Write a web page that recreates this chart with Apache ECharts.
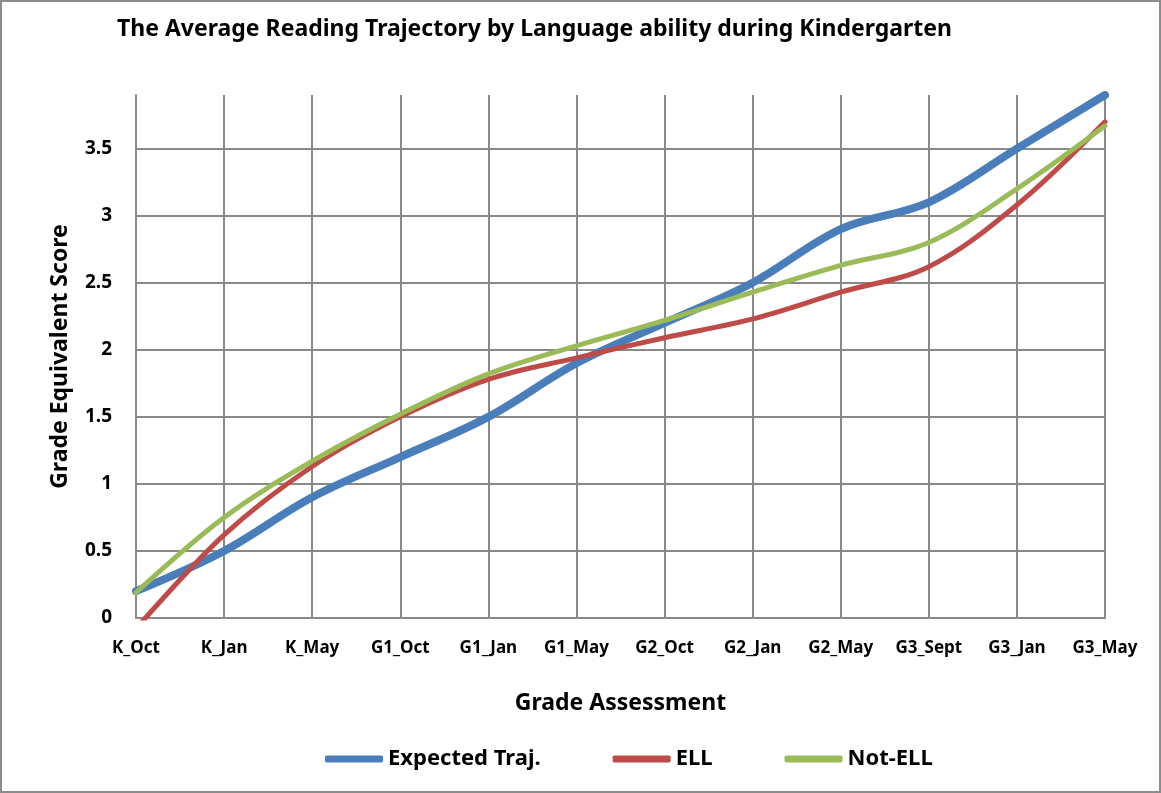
<!DOCTYPE html>
<html>
<head>
<meta charset="utf-8">
<script src="https://cdn.jsdelivr.net/npm/echarts@6/dist/echarts.min.js"></script>
<style>
html,body{margin:0;padding:0;background:#fff;}
#frame{position:absolute;left:0;top:0;width:1161px;height:793px;box-sizing:border-box;border:2px solid #8c8c8c;}
#chart{position:absolute;left:0;top:0;width:1161px;height:793px;}
</style>
</head>
<body>
<div id="frame"></div>
<div id="chart"></div>
<script>
const categories = ['K_Oct','K_Jan','K_May','G1_Oct','G1_Jan','G1_May','G2_Oct','G2_Jan','G2_May','G3_Sept','G3_Jan','G3_May'];
const expectedTraj = [0.2, 0.5, 0.9, 1.2, 1.5, 1.9, 2.2, 2.5, 2.9, 3.1, 3.5, 3.9];
const ell = [-0.08, 0.62, 1.13, 1.5, 1.78, 1.94, 2.09, 2.23, 2.43, 2.62, 3.08, 3.7];
const notEll = [0.19, 0.75, 1.17, 1.52, 1.82, 2.03, 2.22, 2.43, 2.63, 2.8, 3.2, 3.67];
const seriesNames = ['Expected Traj.', 'ELL', 'Not-ELL'];

const FONT = '"Noto Sans", "Open Sans", sans-serif';
const chart = echarts.init(document.getElementById('chart'));
chart.setOption({
  animation: false,
  backgroundColor: 'transparent',
  title: {
    text: 'The Average Reading Trajectory by Language ability during Kindergarten',
    left: 112, top: 13,
    textStyle: {fontFamily: FONT, fontWeight: 'bold', fontSize: 23, color: '#000'}
  },
  legend: {
    data: seriesNames.map(n => ({name: n, icon: 'roundRect'})),
    left: 320, top: 743,
    itemWidth: 58, itemHeight: 7, itemGap: 72,
    textStyle: {fontFamily: FONT, fontWeight: 'bold', fontSize: 22, color: '#000'}
  },
  grid: {left: 136, right: 56, top: 95, bottom: 175, containLabel: false},
  xAxis: {
    type: 'category', data: categories, boundaryGap: false,
    name: 'Grade Assessment', nameLocation: 'middle', nameGap: 74,
    nameTextStyle: {fontFamily: FONT, fontWeight: 'bold', fontSize: 23, color: '#000'},
    axisLine: {lineStyle: {color: '#898989', width: 2}},
    axisTick: {show: false},
    axisLabel: {interval: 0, hideOverlap: false, fontFamily: FONT, fontWeight: 'bold', fontSize: 17, color: '#000', margin: 22},
    splitLine: {show: true, interval: 0, lineStyle: {color: '#898989', width: 2}}
  },
  yAxis: {
    type: 'value', min: 0, max: 3.9, interval: 0.5,
    name: 'Grade Equivalent Score', nameLocation: 'middle', nameGap: 64, nameRotate: 90,
    nameTextStyle: {fontFamily: FONT, fontWeight: 'bold', fontSize: 23, color: '#000'},
    axisLine: {show: true, lineStyle: {color: '#898989', width: 2}},
    axisTick: {show: false},
    axisLabel: {fontFamily: FONT, fontWeight: 'bold', fontSize: 19, color: '#000', margin: 24, showMaxLabel: false},
    splitLine: {show: true, showMaxLine: false, lineStyle: {color: '#898989', width: 2}}
  },
  series: [
    {name: seriesNames[0], type: 'line', data: expectedTraj, smooth: 0.35, symbol: 'none',
     lineStyle: {color: '#4a7ebb', width: 8, cap: 'round'}, itemStyle: {color: '#4a7ebb'}, z: 3},
    {name: seriesNames[1], type: 'line', data: ell, smooth: 0.35, symbol: 'none',
     lineStyle: {color: '#be4b48', width: 5, cap: 'round'}, itemStyle: {color: '#be4b48'}, z: 4},
    {name: seriesNames[2], type: 'line', data: notEll, smooth: 0.35, symbol: 'none',
     lineStyle: {color: '#9bbb59', width: 5, cap: 'round'}, itemStyle: {color: '#9bbb59'}, z: 5}
  ]
});
</script>
</body>
</html>
